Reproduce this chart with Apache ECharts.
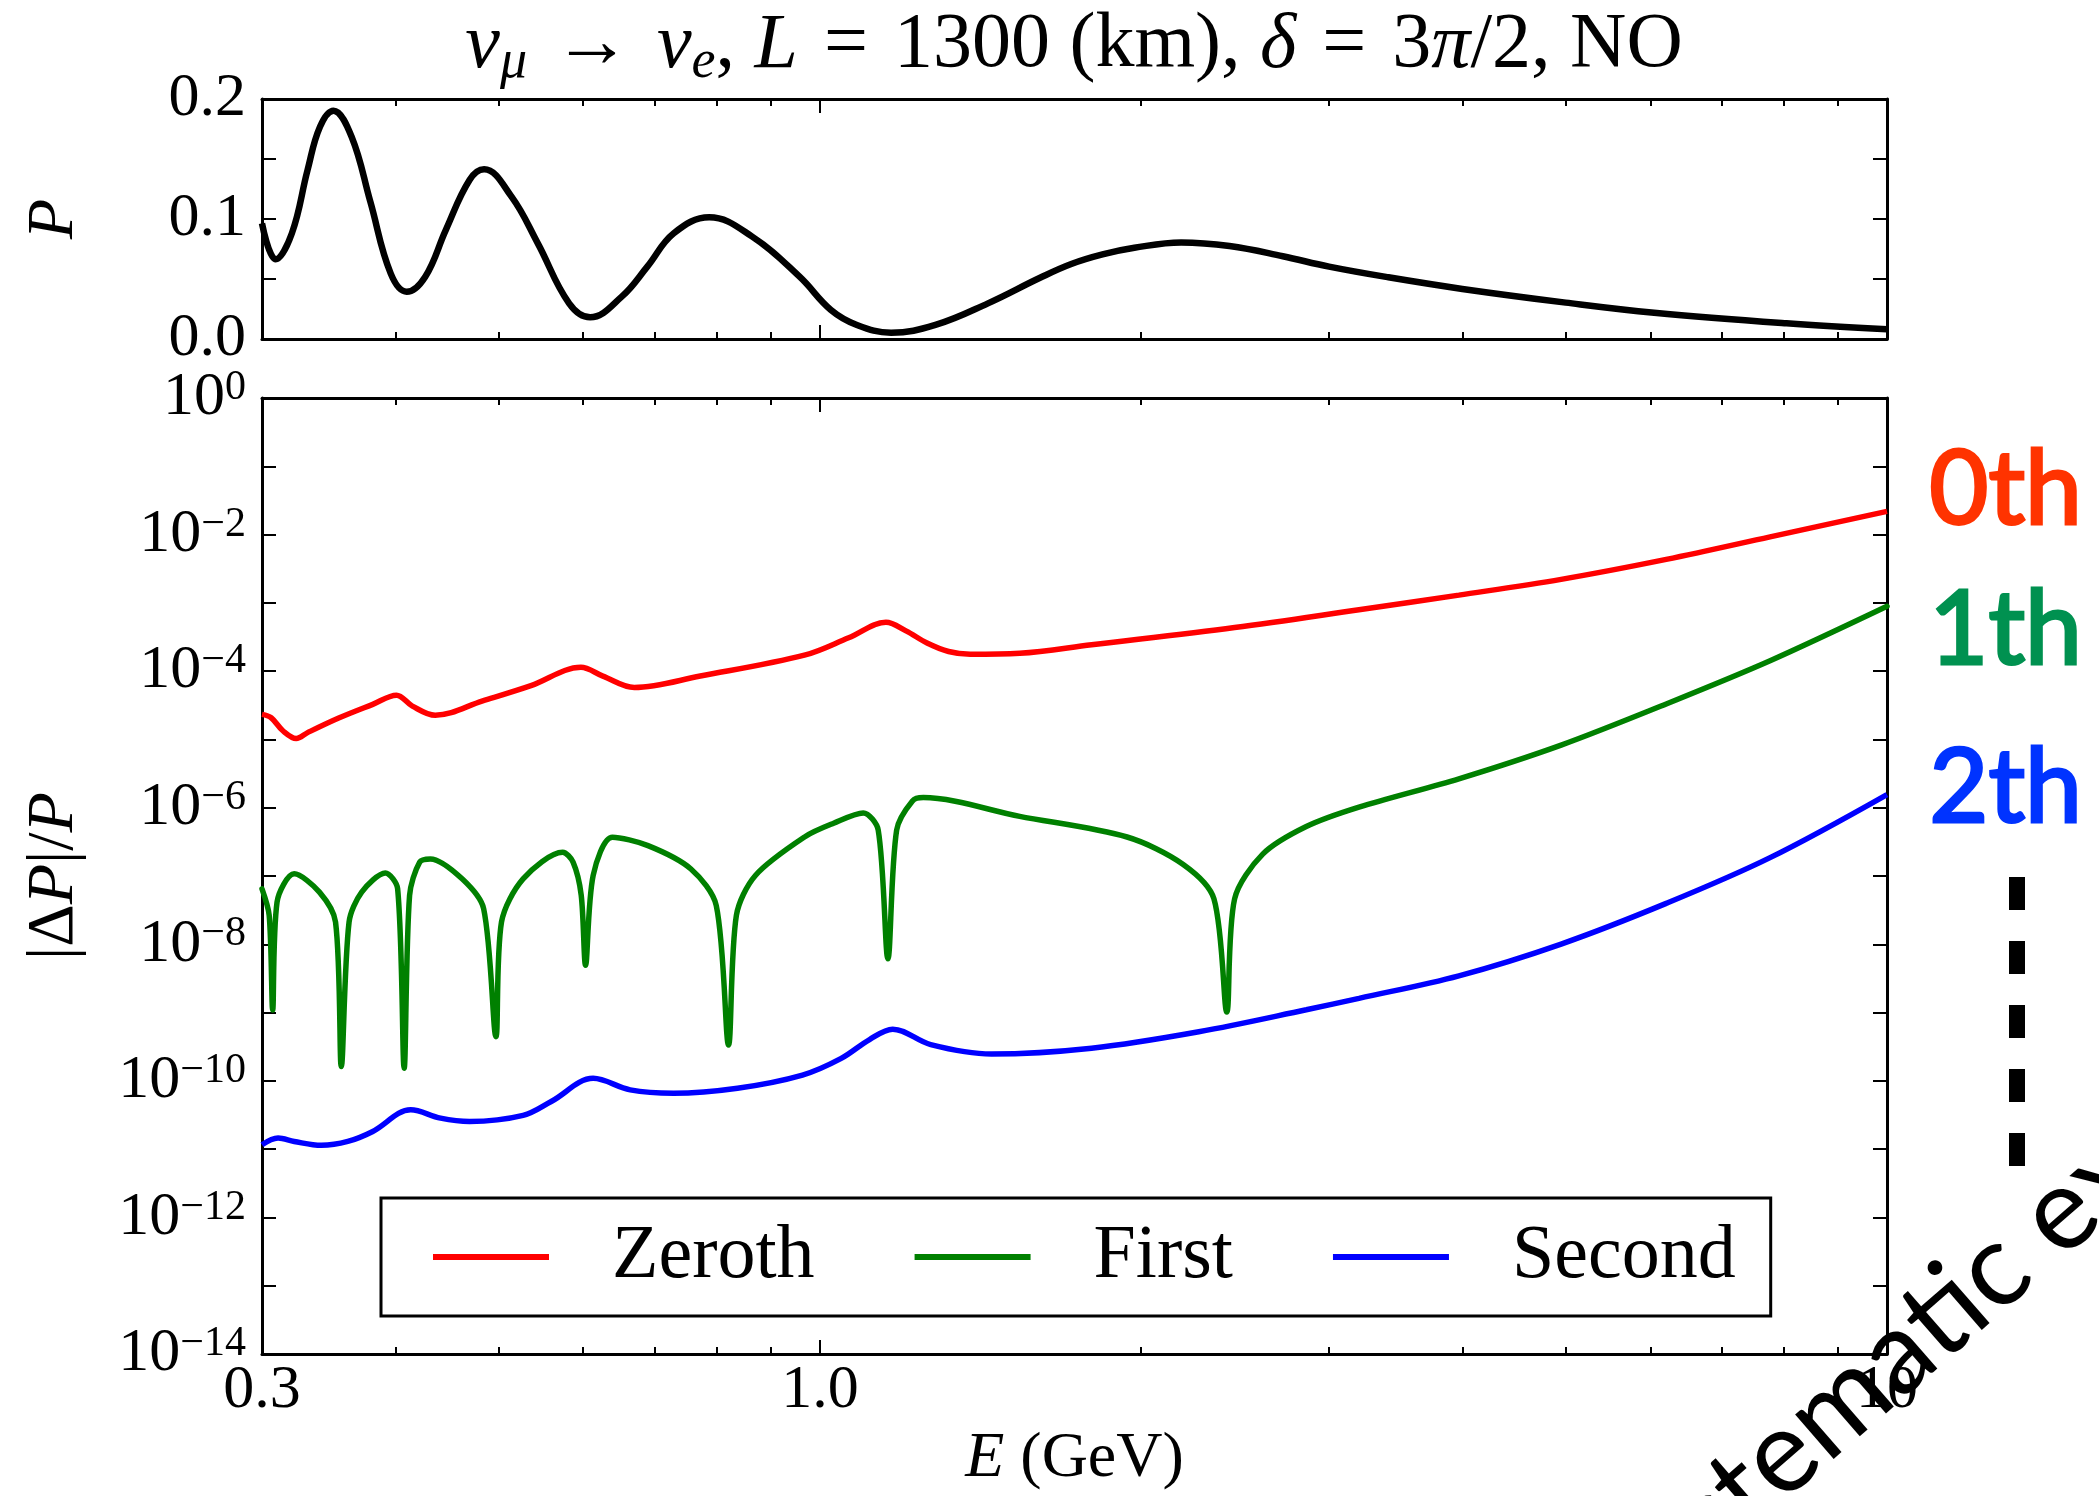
<!DOCTYPE html>
<html>
<head>
<meta charset="utf-8">
<script src="https://cdn.jsdelivr.net/npm/echarts@6/dist/echarts.min.js"></script>
<style>
  html, body { margin: 0; padding: 0; background: #ffffff; }
  #chart { width: 2099px; height: 1496px; }
</style>
</head>
<body>
<div id="chart"></div>
<script>
// Oscillation probability P(nu_mu -> nu_e) versus neutrino energy (GeV)
const probEnergy = [0.300, 0.309, 0.320, 0.331, 0.340, 0.350, 0.364, 0.379, 0.396, 0.410,
  0.4267, 0.446, 0.4695, 0.4845, 0.514, 0.544, 0.582, 0.609, 0.652, 0.689,
  0.7295, 0.7875, 0.864, 0.957, 1.024, 1.083, 1.166, 1.283, 1.437, 1.608,
  1.72, 1.84, 1.971, 2.18, 2.42, 2.715, 3.0, 3.41, 4.0, 5.0, 6.05, 8.05, 10.0];
const probValue = [0.0964, 0.0664, 0.0881, 0.1408, 0.1769, 0.1903, 0.1686, 0.1144, 0.0547, 0.0394,
  0.0519, 0.0908, 0.1325, 0.1414, 0.1186, 0.0797, 0.0297, 0.0181, 0.0353, 0.0603,
  0.0881, 0.1014, 0.0853, 0.0519, 0.0242, 0.0117, 0.0053, 0.0117, 0.0297, 0.0510,
  0.0625, 0.0705, 0.0760, 0.0805, 0.0775, 0.0690, 0.0603, 0.0514, 0.0417, 0.0303, 0.0219, 0.0131, 0.0081];

// Relative error |dP|/P of the zeroth-order expansion
const zerothEnergy = [0.300, 0.306, 0.314, 0.323, 0.331, 0.354, 0.381, 0.401, 0.415, 0.436,
  0.483, 0.536, 0.597, 0.626, 0.670, 0.7725, 0.969, 1.064, 1.153, 1.204,
  1.26, 1.32, 1.383, 1.539, 1.797, 2.447, 3.2, 3.97, 4.95, 6.21, 7.77, 10.0];
const zerothError = [2.33e-5, 2.08e-5, 1.33e-5, 1.03e-5, 1.26e-5, 2.06e-5, 3.27e-5, 4.45e-5, 3.08e-5, 2.26e-5,
  3.67e-5, 6.14e-5, 1.14e-4, 8.47e-5, 5.77e-5, 8.49e-5, 1.73e-4, 3.08e-4, 5.19e-4, 3.89e-4,
  2.59e-4, 1.94e-4, 1.77e-4, 1.83e-4, 2.44e-4, 4.36e-4, 7.94e-4, 1.30e-3, 2.21e-3, 4.33e-3, 9.25e-3, 2.19e-2];

// Relative error of the first-order expansion
const firstEnergy = [0.300, 0.3047, 0.307, 0.3099, 0.3216, 0.3396, 0.3516, 0.356, 0.362, 0.372,
  0.3915, 0.402, 0.4077, 0.4125, 0.4216, 0.4314, 0.462, 0.484, 0.497, 0.503,
  0.527, 0.574, 0.587, 0.5974, 0.603, 0.613, 0.639, 0.690, 0.757, 0.7995,
  0.821, 0.835, 0.870, 0.969, 1.03, 1.098, 1.134, 1.158, 1.18, 1.221,
  1.25, 1.539, 1.94, 2.19, 2.34, 2.406, 2.447, 2.60, 2.856, 3.2,
  3.97, 4.95, 6.21, 7.77, 10.0];
const firstError = [6.50e-8, 2.65e-8, 1.09e-9, 4.16e-8, 1.08e-7, 5.82e-8, 2.12e-8, 1.62e-10, 2.12e-8, 5.82e-8,
  1.11e-7, 6.50e-8, 1.53e-10, 5.19e-8, 1.60e-7, 1.78e-7, 9.10e-8, 3.32e-8, 4.45e-10, 2.12e-8,
  9.10e-8, 2.23e-7, 1.60e-7, 5.25e-8, 4.93e-9, 1.02e-7, 3.70e-7, 2.79e-7, 1.27e-7, 3.71e-8,
  3.36e-10, 2.65e-8, 1.02e-7, 3.80e-7, 5.94e-7, 8.39e-7, 4.71e-7, 6.14e-9, 4.71e-7, 1.26e-6,
  1.41e-6, 7.48e-7, 3.73e-7, 1.48e-7, 4.65e-8, 1.02e-9, 4.65e-8, 2.09e-7, 5.30e-7, 1.02e-6,
  2.65e-6, 8.26e-6, 3.31e-5, 1.42e-4, 8.91e-4];

// Relative error of the second-order expansion
const secondEnergy = [0.300, 0.3106, 0.3216, 0.341, 0.361, 0.381, 0.4135, 0.441, 0.4695, 0.527,
  0.56, 0.613, 0.664, 0.729, 0.837, 0.963, 1.047, 1.113, 1.17, 1.27,
  1.448, 1.797, 2.265, 2.856, 3.2, 3.97, 4.95, 6.21, 7.77, 10.0];
const secondError = [1.16e-11, 1.46e-11, 1.30e-11, 1.14e-11, 1.30e-11, 1.82e-11, 3.78e-11, 2.85e-11, 2.55e-11, 3.13e-11,
  5.00e-11, 1.09e-10, 7.40e-11, 6.61e-11, 7.83e-11, 1.22e-10, 2.14e-10, 4.04e-10, 5.73e-10, 3.40e-10,
  2.48e-10, 3.02e-10, 5.25e-10, 1.10e-9, 1.62e-9, 3.46e-9, 1.01e-8, 3.98e-8, 1.86e-7, 1.56e-6];

// Axis ticks and labels
const energyLabelValues = [0.3, 1, 10];
const energyLabelText = ['0.3', '1.0', '10'];
const energyMinorTicks = [0.4, 0.5, 0.6, 0.7, 0.8, 0.9, 2, 3, 4, 5, 6, 7, 8, 9];
const energyMajorTicks = [1];
const probLabelValues = [0, 0.1, 0.2];
const errorTickValues = [1e-14, 1e-13, 1e-12, 1e-11, 1e-10, 1e-9, 1e-8, 1e-7, 1e-6, 1e-5, 1e-4, 1e-3, 1e-2, 1e-1, 1];
const errorLabelValues = [1e-14, 1e-12, 1e-10, 1e-8, 1e-6, 1e-4, 1e-2, 1];

const seriesNames = ['Zeroth', 'First', 'Second'];
const seriesColors = ['#ff0000', '#008000', '#0000ff'];
const orderLabels = ['0th', '1th', '2th'];
const orderColors = ['#ff3300', '#009150', '#0033ff'];

const SERIF = '"Liberation Serif", "DejaVu Serif", serif';
const SANS = 'Lato, "Open Sans", sans-serif';

const pairs = (xs, ys) => xs.map((x, i) => [x, ys[i]]);

function energyAxis(gridIndex, position, ticks, tickLength, showLine, showLabels) {
  return {
    type: 'log', logBase: 10, min: 0.3, max: 10,
    gridIndex: gridIndex, position: position,
    axisLine: { show: showLine, onZero: false, lineStyle: { color: '#000', width: 3 } },
    axisTick: { show: true, inside: true, length: tickLength, customValues: ticks,
      lineStyle: { color: '#000', width: 2 } },
    axisLabel: showLabels ? {
      show: true, customValues: energyLabelValues,
      formatter: function (v) {
        let best = 0;
        energyLabelValues.forEach((t, i) => {
          if (Math.abs(Math.log10(t) - Math.log10(v)) < Math.abs(Math.log10(energyLabelValues[best]) - Math.log10(v))) best = i;
        });
        return energyLabelText[best];
      },
      fontFamily: SERIF, fontSize: 62, color: '#000', margin: 6, lineHeight: 62
    } : { show: false },
    splitLine: { show: false },
    minorTick: { show: false }
  };
}

function supLabel(v) {
  const e = Math.round(Math.log10(v));
  const txt = e < 0 ? '\u2212' + (-e) : String(e);
  return '{b|10}{s|' + txt + '}';
}

const supRich = {
  b: { fontFamily: SERIF, fontSize: 62, lineHeight: 62, verticalAlign: 'bottom', color: '#000' },
  s: { fontFamily: SERIF, fontSize: 42, lineHeight: 42, verticalAlign: 'top', padding: [0, 0, 26, 0], color: '#000' }
};

const nameRich = {
  n: { fontFamily: SERIF, fontSize: 66, color: '#000', fontWeight: 'normal' },
  i: { fontFamily: SERIF, fontSize: 66, fontStyle: 'italic', color: '#000', fontWeight: 'normal' }
};

const titleRich = {
  n: { fontFamily: SERIF, fontSize: 78, lineHeight: 88, color: '#000', fontWeight: 'normal', verticalAlign: 'middle' },
  r: { fontFamily: SERIF, fontSize: 78, lineHeight: 88, color: '#000', fontWeight: 'normal', verticalAlign: 'middle', padding: [0, 26, 0, 26] },
  i: { fontFamily: SERIF, fontSize: 78, lineHeight: 88, fontStyle: 'italic', fontWeight: 'normal', color: '#000', verticalAlign: 'middle' },
  sb: { fontFamily: SERIF, fontSize: 54, lineHeight: 54, fontStyle: 'italic', fontWeight: 'normal', color: '#000', verticalAlign: 'bottom' }
};

const chart = echarts.init(document.getElementById('chart'), null, { renderer: 'canvas' });

const option = {
  animation: false,
  backgroundColor: '#ffffff',
  title: {
    text: '{i|\u03bd}{sb|\u03bc}{r|\u2192}{i|\u03bd}{sb|e}{n|, }{i|L}{r|=}{n|1300 (km), }{i|\u03b4}{r|=}{n|3}{i|\u03c0}{n|/2, NO}',
    left: 1074, top: 2, padding: 0,
    textAlign: 'center',
    textStyle: { fontWeight: 'normal', rich: titleRich }
  },
  grid: [
    { left: 262, top: 398, width: 1625, height: 959, containLabel: false },
    { left: 262, top: 99, width: 1625, height: 240, containLabel: false }
  ],
  xAxis: [
    Object.assign(energyAxis(0, 'bottom', energyMinorTicks, 7, true, true), {
      name: '{i|E}{n| (GeV)}', nameLocation: 'middle', nameGap: 72,
      nameTextStyle: { rich: { n: { fontFamily: SERIF, fontSize: 64, color: '#000' }, i: { fontFamily: SERIF, fontSize: 64, fontStyle: 'italic', color: '#000' } } }
    }),
    energyAxis(0, 'bottom', energyMajorTicks, 14, false, false),
    energyAxis(0, 'top', energyMinorTicks, 7, true, false),
    energyAxis(0, 'top', energyMajorTicks, 14, false, false),
    energyAxis(1, 'bottom', energyMinorTicks, 7, true, false),
    energyAxis(1, 'bottom', energyMajorTicks, 14, false, false),
    energyAxis(1, 'top', energyMinorTicks, 7, true, false),
    energyAxis(1, 'top', energyMajorTicks, 14, false, false)
  ],
  yAxis: [
    {
      type: 'log', logBase: 10, min: 1e-14, max: 1, gridIndex: 0, position: 'left',
      axisLine: { show: true, onZero: false, lineStyle: { color: '#000', width: 3 } },
      axisTick: { show: true, inside: true, length: 14, customValues: errorTickValues, lineStyle: { color: '#000', width: 2 } },
      axisLabel: { show: true, customValues: errorLabelValues, formatter: supLabel, rich: supRich, margin: 16 },
      splitLine: { show: false }, minorTick: { show: false },
      name: '{n|\u007c\u0394}{i|P}{n|\u007c/}{i|P}', nameLocation: 'middle', nameRotate: 90, nameGap: 174,
      nameTextStyle: { rich: nameRich }
    },
    {
      type: 'log', logBase: 10, min: 1e-14, max: 1, gridIndex: 0, position: 'right',
      axisLine: { show: true, onZero: false, lineStyle: { color: '#000', width: 3 } },
      axisTick: { show: true, inside: true, length: 14, customValues: errorTickValues, lineStyle: { color: '#000', width: 2 } },
      axisLabel: { show: false }, splitLine: { show: false }, minorTick: { show: false }
    },
    {
      type: 'value', min: 0, max: 0.2, interval: 0.05, gridIndex: 1, position: 'left',
      axisLine: { show: true, onZero: false, lineStyle: { color: '#000', width: 3 } },
      axisTick: { show: true, inside: true, length: 14, lineStyle: { color: '#000', width: 2 } },
      axisLabel: { show: true, customValues: probLabelValues, formatter: v => v.toFixed(1),
        fontFamily: SERIF, fontSize: 62, color: '#000', margin: 16 },
      splitLine: { show: false },
      name: '{i|P}', nameLocation: 'middle', nameRotate: 90, nameGap: 174,
      nameTextStyle: { rich: nameRich }
    },
    {
      type: 'value', min: 0, max: 0.2, interval: 0.05, gridIndex: 1, position: 'right',
      axisLine: { show: true, onZero: false, lineStyle: { color: '#000', width: 3 } },
      axisTick: { show: true, inside: true, length: 14, lineStyle: { color: '#000', width: 2 } },
      axisLabel: { show: false }, splitLine: { show: false }
    }
  ],
  legend: {
    data: seriesNames,
    left: 381, top: 1198,
    orient: 'horizontal',
    icon: 'rect', itemWidth: 116, itemHeight: 6, itemGap: 100,
    padding: [19, 35, 19, 52],
    backgroundColor: '#ffffff', borderColor: '#000', borderWidth: 3, borderRadius: 0,
    selectedMode: false,
    textStyle: { fontFamily: SERIF, fontSize: 76, lineHeight: 80, color: '#000', padding: [0, 0, 0, 58] }
  },
  series: [
    {
      name: 'P', type: 'line', xAxisIndex: 4, yAxisIndex: 2,
      data: pairs(probEnergy, probValue), showSymbol: false, smooth: 0.4,
      lineStyle: { color: '#000', width: 6.5 }, itemStyle: { color: '#000' }, z: 3
    },
    {
      name: seriesNames[0], type: 'line', xAxisIndex: 0, yAxisIndex: 0,
      data: pairs(zerothEnergy, zerothError), showSymbol: false, smooth: 0.35,
      lineStyle: { color: seriesColors[0], width: 5.5 }, itemStyle: { color: seriesColors[0] }
    },
    {
      name: seriesNames[1], type: 'line', xAxisIndex: 0, yAxisIndex: 0,
      data: pairs(firstEnergy, firstError), showSymbol: false, smooth: 0.3,
      lineStyle: { color: seriesColors[1], width: 5.5, cap: 'round', join: 'round' }, itemStyle: { color: seriesColors[1] }
    },
    {
      name: seriesNames[2], type: 'line', xAxisIndex: 0, yAxisIndex: 0,
      data: pairs(secondEnergy, secondError), showSymbol: false, smooth: 0.35,
      lineStyle: { color: seriesColors[2], width: 5.5 }, itemStyle: { color: seriesColors[2] }
    }
  ],
  graphic: {
    elements: [
      { type: 'text', x: 2082, y: 491, style: { text: orderLabels[0], fill: orderColors[0], stroke: orderColors[0], lineWidth: 3, fontFamily: SANS, fontSize: 102, align: 'right', verticalAlign: 'middle' } },
      { type: 'text', x: 2082, y: 631, style: { text: orderLabels[1], fill: orderColors[1], stroke: orderColors[1], lineWidth: 3, fontFamily: SANS, fontSize: 102, align: 'right', verticalAlign: 'middle' } },
      { type: 'text', x: 2082, y: 789, style: { text: orderLabels[2], fill: orderColors[2], stroke: orderColors[2], lineWidth: 3, fontFamily: SANS, fontSize: 102, align: 'right', verticalAlign: 'middle' } },
      { type: 'line', shape: { x1: 2017, y1: 877, x2: 2017, y2: 1166 }, style: { stroke: '#000', lineWidth: 16, lineDash: [33, 31] } },
      { type: 'text', x: 1598, y: 1614, rotation: 41 * Math.PI / 180,
        style: { text: 'Systematic expansion', fill: '#000', fontFamily: SANS, fontSize: 116, align: 'left', verticalAlign: 'middle' } }
    ]
  }
};

chart.setOption(option);
</script>
</body>
</html>
